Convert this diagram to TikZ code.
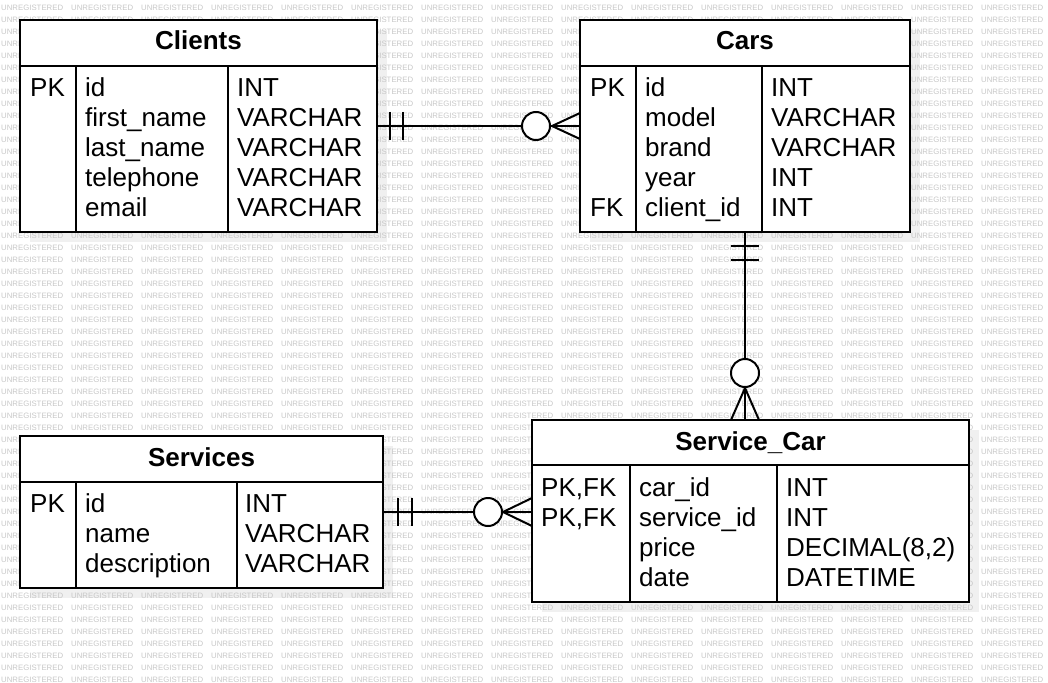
\documentclass[tikz,border=0pt]{standalone}
\usepackage{fontspec}
\setmainfont{Liberation Sans}
\begin{document}
\begin{tikzpicture}[x=1pt,y=-1pt,
        tbl/.style = {draw, line width=2pt, fill=white, inner sep=0, outer sep=0},
        cell/.style = {anchor=base west, inner sep=0, font=\fontsize{26}{30}\selectfont},
        head/.style = {anchor=base, inner sep=0, font=\fontsize{26}{30}\selectfont\bfseries},
        link/.style = {line width=2pt},
        ring/.style = {draw, circle, line width=2pt, fill=white, minimum size=28pt, inner sep=0},
        wm/.style = {anchor=west, inner sep=0, text=black!22, font=\fontsize{7.8}{8}\selectfont}]
        \useasboundingbox (0,0) rectangle (1048,682);
        % shadows
        \fill[black!6] (30,30) rectangle (387,242);
        \fill[black!6] (590,30) rectangle (920,242);
        \fill[black!6] (30,446) rectangle (393,598);
        \fill[black!6] (542,430) rectangle (979,612);
        % watermark
        \begin{scope}
        \clip (0,0) rectangle (1048,682);
        \foreach \r in {0,...,56}
          \foreach \c in {0,...,14}
            \node[wm] (wm-\r-\c) at (1+70*\c, 8+12*\r) {UNREGISTERED};
        \end{scope}
        % tables
        \node[tbl, minimum width=357pt, minimum height=212pt] (clients) at (198.5,126) {};
        \node[tbl, minimum width=330pt, minimum height=212pt] (cars) at (745,126) {};
        \node[tbl, minimum width=363pt, minimum height=152pt] (services) at (201.5,512) {};
        \node[tbl, minimum width=437pt, minimum height=182pt] (servicecar) at (750.5,511) {};
        \draw[link] (20,66) -- (377,66);
        \draw[link] (76,66) -- (76,232);
        \draw[link] (228,66) -- (228,232);
        \draw[link] (580,66) -- (910,66);
        \draw[link] (636,66) -- (636,232);
        \draw[link] (762,66) -- (762,232);
        \draw[link] (20,482) -- (383,482);
        \draw[link] (76,482) -- (76,588);
        \draw[link] (237,482) -- (237,588);
        \draw[link] (532,465) -- (969,465);
        \draw[link] (630,465) -- (630,602);
        \draw[link] (777,465) -- (777,602);
        % Clients
        \node[head] (clients-h) at (198.5,50) {Clients};
        \node[cell] (clients-k1) at (30,96) {PK};
        \node[cell] (clients-n1) at (85,96) {id};
        \node[cell] (clients-n2) at (85,126) {first\_name};
        \node[cell] (clients-n3) at (85,156) {last\_name};
        \node[cell] (clients-n4) at (85,186) {telephone};
        \node[cell] (clients-n5) at (85,216) {email};
        \node[cell] (clients-t1) at (237,96) {INT};
        \node[cell] (clients-t2) at (237,126) {VARCHAR};
        \node[cell] (clients-t3) at (237,156) {VARCHAR};
        \node[cell] (clients-t4) at (237,186) {VARCHAR};
        \node[cell] (clients-t5) at (237,216) {VARCHAR};
        % Cars
        \node[head] (cars-h) at (745,50) {Cars};
        \node[cell] (cars-k1) at (590,96) {PK};
        \node[cell] (cars-k5) at (590,216) {FK};
        \node[cell] (cars-n1) at (645,96) {id};
        \node[cell] (cars-n2) at (645,126) {model};
        \node[cell] (cars-n3) at (645,156) {brand};
        \node[cell] (cars-n4) at (645,186) {year};
        \node[cell] (cars-n5) at (645,216) {client\_id};
        \node[cell] (cars-t1) at (771,96) {INT};
        \node[cell] (cars-t2) at (771,126) {VARCHAR};
        \node[cell] (cars-t3) at (771,156) {VARCHAR};
        \node[cell] (cars-t4) at (771,186) {INT};
        \node[cell] (cars-t5) at (771,216) {INT};
        % Services
        \node[head] (services-h) at (201.5,466) {Services};
        \node[cell] (services-k1) at (30,512) {PK};
        \node[cell] (services-n1) at (85,512) {id};
        \node[cell] (services-n2) at (85,542) {name};
        \node[cell] (services-n3) at (85,572) {description};
        \node[cell] (services-t1) at (245,512) {INT};
        \node[cell] (services-t2) at (245,542) {VARCHAR};
        \node[cell] (services-t3) at (245,572) {VARCHAR};
        % Service_Car
        \node[head] (servicecar-h) at (750.5,450) {Service\_Car};
        \node[cell] (servicecar-k1) at (541,496) {PK,FK};
        \node[cell] (servicecar-k2) at (541,526) {PK,FK};
        \node[cell] (servicecar-n1) at (639,496) {car\_id};
        \node[cell] (servicecar-n2) at (639,526) {service\_id};
        \node[cell] (servicecar-n3) at (639,556) {price};
        \node[cell] (servicecar-n4) at (639,586) {date};
        \node[cell] (servicecar-t1) at (786,496) {INT};
        \node[cell] (servicecar-t2) at (786,526) {INT};
        \node[cell] (servicecar-t3) at (786,556) {DECIMAL(8,2)};
        \node[cell] (servicecar-t4) at (786,586) {DATETIME};
        % relations
        \draw[link] (clients.east) -- (cars.west);
        \draw[link] (390,112) -- (390,140);
        \draw[link] (403,112) -- (403,140);
        \draw[link] (580,113) -- (552,126) -- (580,139);
        \node[ring] (r1) at (536,126) {};
        \draw[link] (cars.south) -- (cars.south |- servicecar.north);
        \draw[link] (731,246) -- (759,246);
        \draw[link] (731,260) -- (759,260);
        \draw[link] (731,420) -- (745,388) -- (759,420);
        \node[ring] (r2) at (745,373) {};
        \draw[link] (services.east) -- (servicecar.west |- services.east);
        \draw[link] (398,498) -- (398,526);
        \draw[link] (412,498) -- (412,526);
        \draw[link] (532,498) -- (503,512) -- (532,526);
        \node[ring] (r3) at (488,512) {};
\end{tikzpicture}
\end{document}
